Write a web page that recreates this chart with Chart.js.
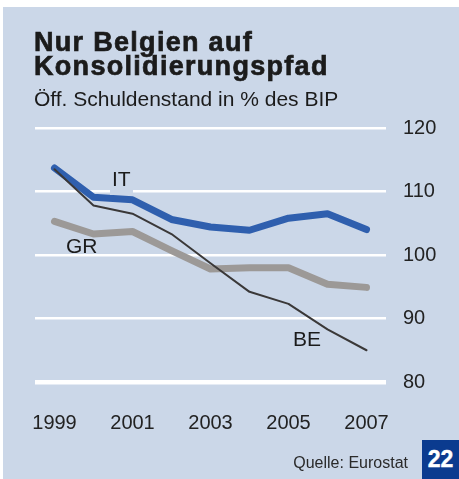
<!DOCTYPE html>
<html><head><meta charset="utf-8">
<script src="https://cdn.jsdelivr.net/npm/chart.js@4.4.0/dist/chart.umd.min.js"></script>
<style>
html,body{margin:0;padding:0;background:#fff;width:459px;height:479px;overflow:hidden;}
body{font-family:"Liberation Sans",Arial,Helvetica,sans-serif;}
#panel{position:absolute;left:3px;top:7px;width:456px;height:472px;background:#cbd7e8;}
#cw{position:absolute;left:0;top:0;width:459px;height:479px;}
.txt{position:absolute;white-space:nowrap;color:#1b1b1b;}
#title{left:34px;top:30px;font-size:27px;line-height:24px;font-weight:bold;letter-spacing:1.3px;-webkit-text-stroke:0.7px #1b1b1b;}
#sub{left:34px;top:88px;font-size:21px;line-height:21px;}
#src{right:51px;top:455px;font-size:16px;line-height:16px;color:#2a2a2a;}
#page{position:absolute;left:422px;top:440px;width:37px;height:39px;background:#0b3b8f;color:#fff;font-weight:bold;font-size:23px;line-height:39px;text-align:center;-webkit-text-stroke:0.4px #fff;}
.lab{position:absolute;font-size:21px;line-height:21px;color:#1b1b1b;white-space:nowrap;}
#labIT{left:110px;top:168px;padding:0 2px 6px 2px;background:#cbd7e8;}
#labGR{left:66px;top:235px;}
#labBE{left:293px;top:328px;}
</style></head>
<body>
<div id="panel"></div>
<div id="cw"><canvas id="c"></canvas></div>
<div class="txt" id="title">Nur Belgien auf<br>Konsolidierungspfad</div>
<div class="txt" id="sub">Öff. Schuldenstand in % des BIP</div>
<div class="txt" id="src">Quelle: Eurostat</div>
<div id="page">22</div>
<div class="lab" id="labIT">IT</div>
<div class="lab" id="labGR">GR</div>
<div class="lab" id="labBE">BE</div>
<script>
const years = ['1999','2000','2001','2002','2003','2004','2005','2006','2007'];
const shownYears = ['1999','2001','2003','2005','2007'];
const seriesNames = ['BE','IT','GR'];
const valuesIT = [113.7,109.1,108.7,105.6,104.4,103.9,105.8,106.5,104.0];
const valuesGR = [105.3,103.3,103.7,100.7,97.8,98.0,98.0,95.4,94.9];
const valuesBE = [113.5,107.8,106.5,103.3,98.7,94.2,92.3,88.3,85.0];
const yTicks = [80,90,100,110,120];

const FONT = '"Liberation Sans", Arial, Helvetica, sans-serif';

new Chart(document.getElementById('c'), {
  type: 'line',
  data: {
    labels: years,
    datasets: [
      {label: seriesNames[0], data: valuesBE, borderColor: '#3a3838', borderWidth: 2, order: 0},
      {label: seriesNames[1], data: valuesIT, borderColor: '#2f5fae', borderWidth: 7, order: 1},
      {label: seriesNames[2], data: valuesGR, borderColor: '#9c9997', borderWidth: 7, order: 2}
    ]
  },
  options: {
    responsive: true,
    maintainAspectRatio: false,
    animation: false,
    events: [],
    layout: {padding: {left: 35, top: 128, right: 0, bottom: 37}},
    elements: {
      point: {radius: 0},
      line: {tension: 0, borderCapStyle: 'round', borderJoinStyle: 'round', fill: false}
    },
    plugins: {legend: {display: false}, tooltip: {enabled: false}, title: {display: false}},
    scales: {
      x: {
        type: 'category',
        offset: true,
        grid: {display: false},
        border: {display: false},
        afterFit: s => { s.height = 60; },
        ticks: {
          autoSkip: false, maxRotation: 0, padding: 21,
          color: '#222', font: {family: FONT, size: 20},
          callback: function(v, i) { const l = this.getLabelForValue(v); return shownYears.includes(l) ? l : ''; }
        }
      },
      y: {
        position: 'right',
        min: yTicks[0], max: yTicks[yTicks.length - 1],
        afterFit: s => { s.width = 73; },
        afterBuildTicks: s => { s.ticks = yTicks.map(v => ({value: v})); },
        border: {display: false},
        grid: {
          color: '#ffffff', drawTicks: false,
          lineWidth: c => (c.tick && c.tick.value === yTicks[0]) ? 4.5 : 2.6
        },
        ticks: {padding: 17, color: '#222', font: {family: FONT, size: 20}}
      }
    }
  }
});
</script>
</body></html>
